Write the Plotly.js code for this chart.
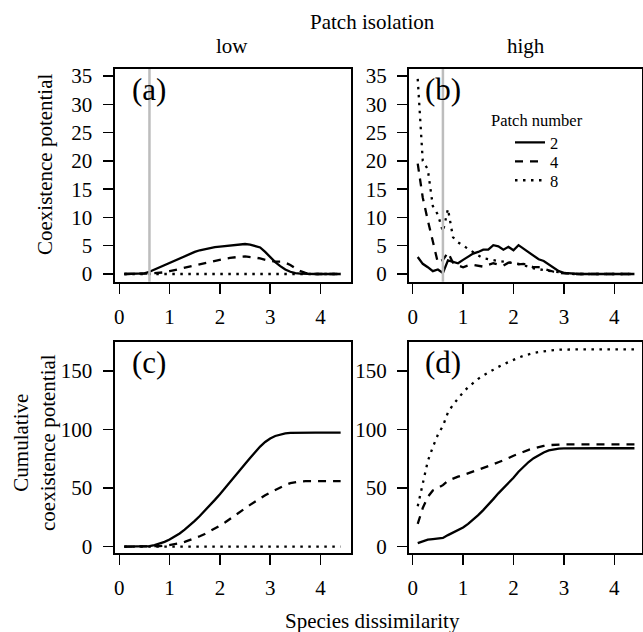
<!DOCTYPE html>
<html>
<head>
<meta charset="utf-8">
<script src="https://cdn.plot.ly/plotly-3.0.1.min.js"></script>
<style>html,body{margin:0;padding:0;background:#fff;}#chart{width:643px;height:632px;}</style>
</head>
<body>
<div id="chart"></div>
<script>
// ---- data ----
const dissimilarity = [0.1,0.2,0.3,0.4,0.5,0.6,0.7,0.8,0.9,1.0,1.1,1.2,1.3,1.4,1.5,1.6,1.7,1.8,1.9,2.0,2.1,2.2,2.3,2.4,2.5,2.6,2.7,2.8,2.9,3.0,3.1,3.2,3.3,3.4,3.5,3.6,3.7,3.8,3.9,4.0,4.1,4.2,4.3,4.4];
const patchNumbers = ["2","4","8"];
const threshold = 0.6;

// (a) low isolation, coexistence potential
const lowPatch2 = [0,0,0,0,0.1,0.4,0.8,1.2,1.6,2.0,2.4,2.8,3.2,3.6,3.9,4.2,4.4,4.6,4.75,4.85,4.95,5.05,5.15,5.25,5.3,5.2,5.0,4.7,3.9,3.0,2.1,1.4,0.8,0.4,0.15,0.05,0,0,0,0,0,0,0,0];
const lowPatch4 = [0,0,0,0,0.05,0.1,0.15,0.2,0.3,0.5,0.7,0.9,1.2,1.4,1.6,1.8,2.0,2.2,2.35,2.5,2.7,2.85,3.0,3.05,3.1,3.05,2.9,2.75,2.5,2.3,2.2,2.2,2.0,1.6,1.0,0.5,0.2,0.05,0,0,0,0,0,0];
const lowPatch8 = [0,0,0,0,0,0,0,0,0,0,0,0,0,0,0,0,0,0,0,0,0,0,0,0,0,0,0,0,0,0,0,0,0,0,0,0,0,0,0,0,0,0,0,0];

// (b) high isolation, coexistence potential
const highPatch2 = [3.0,1.8,1.2,0.5,0.8,0.2,2.4,2.1,1.9,2.5,3.0,3.6,3.9,4.3,4.3,5.1,4.9,4.3,4.8,4.2,5.1,4.5,3.8,3.3,2.6,2.3,1.7,1.0,0.5,0.2,0.1,0.05,0,0,0,0,0,0,0,0,0,0,0,0];
const highPatch4 = [19.5,13.5,9.5,5.5,2.0,2.5,3.8,2.0,1.5,1.2,1.5,1.6,1.4,1.3,1.6,1.9,1.7,1.5,2.0,2.1,1.7,1.8,1.5,1.2,1.2,0.9,0.7,0.4,0.2,0.1,0,0,0,0,0,0,0,0,0,0,0,0,0,0];
const highPatch8 = [34.5,20.0,18.5,12.0,10.5,7.5,11.5,6.5,5.6,5.0,4.4,3.8,3.3,2.8,2.6,2.5,2.3,2.2,2.0,1.9,1.8,1.6,1.3,1.0,0.9,0.7,0.55,0.45,0.3,0.2,0.05,0,0,0,0,0,0,0,0,0,0,0,0,0];

// (c) low isolation, cumulative coexistence potential
const lowCum2 = [0,0,0,0,0.1,0.5,1.3,2.5,4.1,6.1,8.5,11.3,14.5,18.1,22,26.2,30.6,35.2,39.95,44.8,49.75,54.8,59.95,65.2,70.5,75.7,80.7,85.4,89.3,92.3,94.4,95.8,96.6,97,97.15,97.2,97.2,97.2,97.2,97.2,97.2,97.2,97.2,97.2];
const lowCum4 = [0,0,0,0,0.05,0.15,0.3,0.5,0.8,1.3,2.0,2.9,4.1,5.5,7.1,8.9,10.9,13.1,15.45,17.95,20.65,23.5,26.5,29.55,32.65,35.7,38.6,41.35,43.85,46.15,48.35,50.55,52.55,54.15,55.15,55.65,55.85,55.9,55.9,55.9,55.9,55.9,55.9,55.9];
const lowCum8 = [0,0,0,0,0,0,0,0,0,0,0,0,0,0,0,0,0,0,0,0,0,0,0,0,0,0,0,0,0,0,0,0,0,0,0,0,0,0,0,0,0,0,0,0];

// (d) high isolation, cumulative coexistence potential
const highCum2 = [3,4.8,6,6.5,7.3,7.5,9.9,12,13.9,16.4,19.4,23,26.9,31.2,35.5,40.6,45.5,49.8,54.6,58.8,63.9,68.4,72.2,75.5,78.1,80.4,82.1,83.1,83.6,83.8,83.9,83.95,83.95,83.95,83.95,83.95,83.95,83.95,83.95,83.95,83.95,83.95,83.95,83.95];
const highCum4 = [19.5,33,42.5,48,50,52.5,56.3,58.3,59.8,61,62.5,64.1,65.5,66.8,68.4,70.3,72,73.5,75.5,77.6,79.3,81.1,82.6,83.8,85,85.9,86.6,87,87.2,87.3,87.3,87.3,87.3,87.3,87.3,87.3,87.3,87.3,87.3,87.3,87.3,87.3,87.3,87.3];
const highCum8 = [34.5,54.5,73,85,95.5,103,114.5,121,126.6,131.6,136,139.8,143.1,145.9,148.5,151,153.3,155.5,157.5,159.4,161.2,162.8,164.1,165.1,166,166.7,167.25,167.7,168,168.2,168.25,168.25,168.25,168.25,168.25,168.25,168.25,168.25,168.25,168.25,168.25,168.25,168.25,168.25];

const xTicks = [0,1,2,3,4];
const yTicksTop = [0,5,10,15,20,25,30,35];
const yTicksBottom = [0,50,100,150];

// ---- styling / layout ----
const W = 643, H = 632;
const FONT = "Liberation Serif";
const fx = p => p / W;
const fy = p => 1 - p / H;

const styles = [
  {color:"black", width:2.3, dash:"solid"},
  {color:"black", width:2.3, dash:"8px,7px"},
  {color:"black", width:2.3, dash:"2.5px,5.5px"}
];
const legendIds = ["legend", "legend2", "legend3"];

function series(xa, ya, ys, legend) {
  return ys.map((y, i) => ({
    x: dissimilarity, y: y, xaxis: xa, yaxis: ya, type: "scatter", mode: "lines",
    line: styles[i], name: patchNumbers[i], showlegend: legend, legend: legendIds[i],
    hoverinfo: "skip"
  }));
}

const data = [].concat(
  series("x", "y", [lowPatch2, lowPatch4, lowPatch8], false),
  series("x2", "y2", [highPatch2, highPatch4, highPatch8], true),
  series("x3", "y3", [lowCum2, lowCum4, lowCum8], false),
  series("x4", "y4", [highCum2, highCum4, highCum8], false)
);

const leftDom = [fx(114.5), fx(351)];
const rightDom = [fx(409), fx(642)];
const topDom = [fy(281.7), fy(69)];
const botDom = [fy(552.7), fy(341.7)];

function xAxis(domain, anchor, range) {
  return {domain, anchor, range, tickvals: xTicks, ticktext: xTicks.map(String),
    showline:true, mirror:true, linecolor:"black", linewidth:2,
    ticks:"outside", ticklen:10, tickwidth:1.5, tickcolor:"black",
    showgrid:false, zeroline:false, tickfont:{family:FONT, size:21, color:"black"},
    ticklabelstandoff: 5};
}
function yAxis(domain, anchor, range, tv) {
  return {domain, anchor, range, tickvals: tv, ticktext: tv.map(String),
    showline:true, mirror:true, linecolor:"black", linewidth:2,
    ticks:"outside", ticklen:10, tickwidth:1.5, tickcolor:"black",
    showgrid:false, zeroline:false, tickfont:{family:FONT, size:21, color:"black"},
    ticklabelstandoff: 6};
}

const topY = [-1.36, 36.24];
const botY = [-5.1, 174.8];
const leftX = [-0.095, 4.606];
const rightX = [-0.073, 4.55];

function ann(text, x, y, size, extra) {
  return Object.assign({text, xref:"paper", yref:"paper", x:fx(x), y:fy(y),
    showarrow:false, xanchor:"center", yanchor:"middle",
    font:{family:FONT, size:size, color:"black"}}, extra || {});
}
function legendAt(py) {
  return {x: fx(510), y: fy(py), xanchor:"left", yanchor:"middle",
    bgcolor:"rgba(0,0,0,0)", borderwidth:0,
    font:{family:FONT, size:16.5, color:"black"}};
}

const layout = {
  width: W, height: H,
  margin: {l:0, r:0, t:0, b:0},
  paper_bgcolor: "white", plot_bgcolor: "white",
  font: {family: FONT, color: "black"},
  xaxis: xAxis(leftDom, "y", leftX),
  yaxis: yAxis(topDom, "x", topY, yTicksTop),
  xaxis2: xAxis(rightDom, "y2", rightX),
  yaxis2: yAxis(topDom, "x2", topY, yTicksTop),
  xaxis3: xAxis(leftDom, "y3", leftX),
  yaxis3: yAxis(botDom, "x3", botY, yTicksBottom),
  xaxis4: xAxis(rightDom, "y4", rightX),
  yaxis4: yAxis(botDom, "x4", botY, yTicksBottom),
  showlegend: true,
  legend: legendAt(142.7),
  legend2: legendAt(161.7),
  legend3: legendAt(180.5),
  shapes: [
    {type:"line", xref:"x", yref:"y domain", x0:threshold, x1:threshold, y0:0, y1:1,
     line:{color:"#bdbdbd", width:2.5}, layer:"above"},
    {type:"line", xref:"x2", yref:"y2 domain", x0:threshold, x1:threshold, y0:0, y1:1,
     line:{color:"#bdbdbd", width:2.5}, layer:"above"}
  ],
  annotations: [
    ann("Patch isolation", 372, 22, 21),
    ann("low", 232.5, 46, 21),
    ann("high", 525.5, 46, 21),
    ann("Species dissimilarity", 372, 621, 21),
    ann("Coexistence potential", 45, 164, 21, {textangle:-90}),
    ann("Cumulative<br>coexistence potential", 34, 443, 21, {textangle:-90}),
    ann("Patch number", 537, 120, 16.5),
    ann("(a)", 130, 90, 31, {xanchor:"left"}),
    ann("(b)", 423, 90, 31, {xanchor:"left"}),
    ann("(c)", 130, 363, 31, {xanchor:"left"}),
    ann("(d)", 423, 363, 31, {xanchor:"left"})
  ]
};

Plotly.newPlot("chart", data, layout, {staticPlot:true, displayModeBar:false});
</script>
</body>
</html>
